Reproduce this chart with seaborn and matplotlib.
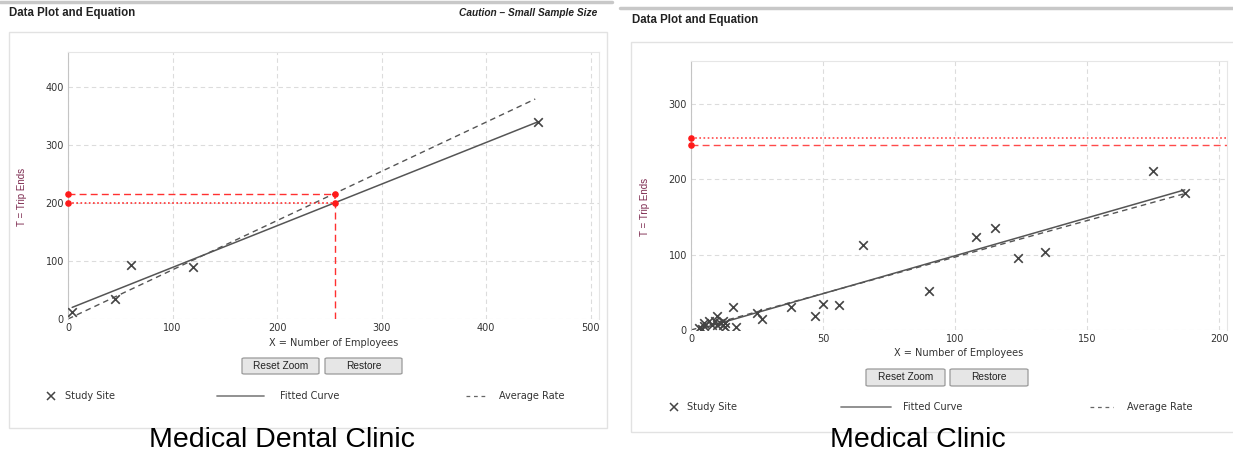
import matplotlib
matplotlib.use("Agg")
import matplotlib.pyplot as plt
from matplotlib.lines import Line2D
from matplotlib.patches import Rectangle, FancyBboxPatch
from matplotlib import font_manager
import pandas as pd
import seaborn as sns

# Medical Dental Clinic (left panel)
dental_x = [4, 45, 60, 120, 450]
dental_y = [12, 34, 93, 90, 340]
dental_fit_x = [4, 450]
dental_fit_y = [20, 340]
dental_avg_x = [0, 447]
dental_avg_y = [0, 379]
dental_est_x = 255
dental_est_fit = 200
dental_est_avg = 216

# Medical Clinic (right panel)
clinic_x = [3, 4, 5, 5, 7, 8, 9, 10, 10, 11, 12, 12, 13, 13,
            16, 17, 25, 27, 38, 47, 50, 56, 65, 90, 108, 115, 124, 134, 175, 187]
clinic_y = [2, 1, 5, 9, 12, 6, 12, 18, 7, 9, 12, 6, 4, 9,
            30, 4, 22, 15, 30, 19, 35, 33, 113, 52, 124, 135, 96, 104, 211, 182]
clinic_fit_x = [3, 187]
clinic_fit_y = [1, 186]
clinic_avg_x = [0, 187]
clinic_avg_y = [0, 181]
clinic_est_fit = 255
clinic_est_avg = 246

W, H = 1233, 455

sns.set_style("white")
plt.rcParams["font.family"] = ["DejaVu Sans"]

names = {f.name for f in font_manager.fontManager.ttflist}
narrow = "Liberation Sans Narrow" if "Liberation Sans Narrow" in names else "Liberation Sans"

fig = plt.figure(figsize=(W / 100, H / 100), dpi=100)


def fx(x):
    return x / W


def fy(y):
    return 1 - y / H


def add_axes(x0, x1, y0, y1):
    return fig.add_axes([fx(x0), fy(y1), fx(x1 - x0), (y1 - y0) / H])


def style_axes(ax, xmax, ymax, xticks, yticks):
    ax.set_xlim(0, xmax)
    ax.set_ylim(0, ymax)
    ax.set_xticks(xticks)
    ax.set_yticks(yticks)
    ax.grid(True, color="#dcdcdc", linestyle=(0, (4, 3)), linewidth=0.8)
    ax.tick_params(length=0, labelsize=7, colors="#333333", pad=3)
    for s in ["top", "right"]:
        ax.spines[s].set_color("#e6e6e6")
    ax.spines["left"].set_color("#c4c4c4")
    ax.spines["bottom"].set_visible(False)
    ax.set_xlabel("")
    ax.set_ylabel("")


def draw_data(ax, px, py, fit_x, fit_y, avg_x, avg_y):
    df = pd.DataFrame({"x": px, "y": py})
    sns.lineplot(x=avg_x, y=avg_y, color="#555555", linewidth=1,
                 linestyle=(0, (4, 3)), ax=ax)
    sns.lineplot(x=fit_x, y=fit_y, color="#555555", linewidth=1.1, ax=ax)
    sns.scatterplot(data=df, x="x", y="y", marker="x", s=38, color="#444444",
                    linewidth=1.2, ax=ax, zorder=5)


# ---------- frame decoration ----------
fig.add_artist(Line2D([0, fx(612)], [fy(1.5), fy(1.5)], color="#c8c8c8", lw=2.5, transform=fig.transFigure))
fig.add_artist(Line2D([fx(620), 1], [fy(8), fy(8)], color="#c8c8c8", lw=2.5, transform=fig.transFigure))
fig.add_artist(Rectangle((fx(9), fy(428)), fx(598), (428 - 32) / H, fill=False,
                         edgecolor="#e2e2e2", lw=1, transform=fig.transFigure))
fig.add_artist(Rectangle((fx(631), fy(432)), fx(610), (432 - 42) / H, fill=False,
                         edgecolor="#e2e2e2", lw=1, transform=fig.transFigure))

fig.text(fx(9), fy(13), "Data Plot and Equation", family="Liberation Sans",
         weight="bold", fontsize=8.3, color="#222222", va="center")
fig.text(fx(597), fy(13), "Caution \u2013 Small Sample Size", family="Liberation Sans",
         weight="bold", style="italic", fontsize=7.3, color="#222222", va="center", ha="right")
fig.text(fx(632), fy(20), "Data Plot and Equation", family="Liberation Sans",
         weight="bold", fontsize=8.3, color="#222222", va="center")

# ---------- left panel ----------
ax1 = add_axes(68, 599, 52, 319)
draw_data(ax1, dental_x, dental_y, dental_fit_x, dental_fit_y, dental_avg_x, dental_avg_y)
ax1.plot([0, dental_est_x], [dental_est_avg, dental_est_avg], color="#ff3030",
         linestyle=(0, (5, 3)), lw=1)
ax1.plot([0, dental_est_x], [dental_est_fit, dental_est_fit], color="#ff3030",
         linestyle=(0, (1, 1.5)), lw=1.2)
ax1.plot([dental_est_x, dental_est_x], [0, dental_est_fit], color="#ff3030",
         linestyle=(0, (5, 3)), lw=1)
ax1.plot([dental_est_x, dental_est_x], [dental_est_fit, dental_est_avg], color="#ff3030",
         linestyle=(0, (1, 1.5)), lw=1.2)
ax1.scatter([0, 0, dental_est_x, dental_est_x],
            [dental_est_avg, dental_est_fit, dental_est_avg, dental_est_fit],
            color="#ff1a1a", s=14, zorder=6, clip_on=False)
style_axes(ax1, 508, 460, range(0, 501, 100), range(0, 401, 100))

# ---------- right panel ----------
ax2 = add_axes(691, 1227, 61, 330)
draw_data(ax2, clinic_x, clinic_y, clinic_fit_x, clinic_fit_y, clinic_avg_x, clinic_avg_y)
ax2.axhline(clinic_est_fit, color="#ff4a4a", linestyle=(0, (1, 1.5)), lw=1.2)
ax2.axhline(clinic_est_avg, color="#ff4a4a", linestyle=(0, (5, 3)), lw=1)
ax2.scatter([0, 0], [clinic_est_fit, clinic_est_avg], color="#ff1a1a", s=14,
            zorder=6, clip_on=False)
style_axes(ax2, 203, 357, range(0, 201, 50), range(0, 301, 100))

# ---------- axis titles ----------
for x, y in [(22, 197), (645, 207)]:
    fig.text(fx(x), fy(y), "T = Trip Ends", rotation=90, family=narrow,
             fontsize=7, color="#7d2a4f", ha="center", va="center")
for x, y in [(334, 343), (959, 353)]:
    fig.text(fx(x), fy(y), "X = Number of Employees", fontsize=7,
             color="#333333", ha="center", va="center")


# ---------- buttons ----------
def button(x0, x1, y0, y1, label):
    fig.add_artist(FancyBboxPatch((fx(x0), fy(y1)), fx(x1 - x0), (y1 - y0) / H,
                                  boxstyle="round,pad=0,rounding_size=0.002",
                                  facecolor="#e6e6e6", edgecolor="#9a9a9a", lw=0.9,
                                  transform=fig.transFigure))
    fig.text(fx((x0 + x1) / 2), fy((y0 + y1) / 2), label, family="Liberation Sans",
             fontsize=7.3, color="#222222", ha="center", va="center")


button(242, 319, 358, 374, "Reset Zoom")
button(325, 402, 358, 374, "Restore")
button(866, 945, 369, 386, "Reset Zoom")
button(950, 1028, 369, 386, "Restore")


# ---------- legends ----------
def legend_row(y, xm, xs, l0, l1, xf, d0, d1, xa):
    fig.add_artist(Line2D([fx(xm)], [fy(y)], marker="x", markersize=5.5, mew=1.1,
                          color="#444444", transform=fig.transFigure))
    fig.text(fx(xs), fy(y), "Study Site", fontsize=7, color="#333333", va="center")
    fig.add_artist(Line2D([fx(l0), fx(l1)], [fy(y), fy(y)], color="#888888", lw=1.3,
                          transform=fig.transFigure))
    fig.text(fx(xf), fy(y), "Fitted Curve", fontsize=7, color="#333333", va="center")
    fig.add_artist(Line2D([fx(d0), fx(d1)], [fy(y), fy(y)], color="#666666", lw=0.9,
                          linestyle=(0, (3, 3)), transform=fig.transFigure))
    fig.text(fx(xa), fy(y), "Average Rate", fontsize=7, color="#333333", va="center")


legend_row(396, 51, 65, 217, 264, 280, 466, 487, 499)
legend_row(407, 674, 687, 841, 891, 903, 1090, 1113, 1127)

# ---------- captions ----------
cap_size = 24 if narrow == "Liberation Sans Narrow" else 20.5
fig.text(fx(282), fy(440), "Medical Dental Clinic", family=narrow, fontsize=cap_size,
         color="black", ha="center", va="center")
fig.text(fx(918), fy(440), "Medical Clinic", family=narrow, fontsize=cap_size,
         color="black", ha="center", va="center")

fig.savefig("out.png", dpi=100)
